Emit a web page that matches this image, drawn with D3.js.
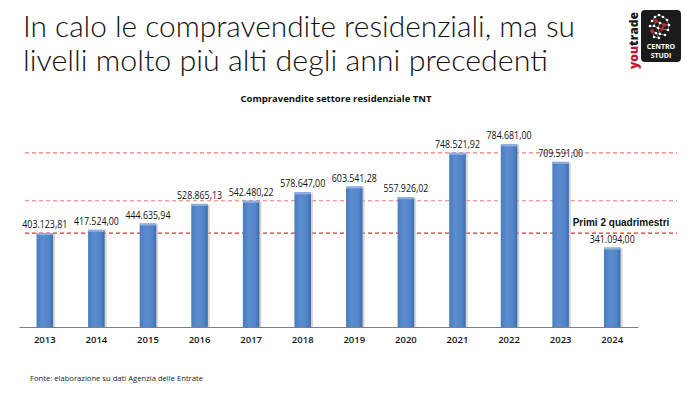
<!DOCTYPE html>
<html><head><meta charset="utf-8">
<script src="https://cdn.jsdelivr.net/npm/d3@7"></script>
<style>
html,body{margin:0;padding:0;background:#fff;}
svg{display:block;}
</style></head>
<body>
<svg id="c" width="690" height="397"></svg>
<script>
const years = ["2013","2014","2015","2016","2017","2018","2019","2020","2021","2022","2023","2024"];
const values = [403123.81, 417524.00, 444635.94, 528865.13, 542480.22, 578647.00, 603541.28, 557926.02, 748521.92, 784681.00, 709591.00, 341094.00];
const refLines = [748521.92, 542480.22, 403123.81];
const titleLines = ["In calo le compravendite residenziali, ma su", "livelli molto più alti degli anni precedenti"];
const chartTitle = "Compravendite settore residenziale TNT";
const note2024 = "Primi 2 quadrimestri";
const source = "Fonte: elaborazione su dati Agenzia delle Entrate";

const svg = d3.select("#c");
const it = d3.formatLocale({decimal: ",", thousands: ".", grouping: [3], currency: ["€",""]});
const fmt = it.format(",.2f");

const x = d3.scaleBand().domain(years).range([19, 638]).paddingInner(0.68).paddingOuter(0.34);
const y = d3.scaleLinear().domain([0, 800000]).range([327, 140.8]);

// defs
const defs = svg.append("defs");
const g1 = defs.append("linearGradient").attr("id","barg").attr("x1","0").attr("x2","1").attr("y1","0").attr("y2","0");
g1.append("stop").attr("offset","0").attr("stop-color","#4a7bbd");
g1.append("stop").attr("offset","0.35").attr("stop-color","#5b8cd0");
g1.append("stop").attr("offset","0.75").attr("stop-color","#5286c9");
g1.append("stop").attr("offset","1").attr("stop-color","#3e6cab");

// title
svg.append("g").selectAll("text").data(titleLines).join("text")
  .attr("x", 23).attr("y", (d,i)=> 37 + i*34)
  .attr("font-family","Lato, 'Open Sans', sans-serif").attr("font-weight",300)
  .attr("font-size", 29).attr("fill","#111")
  .attr("textLength",(d,i)=> i===0 ? 552 : 525).attr("lengthAdjust","spacingAndGlyphs")
  .text(d=>d);

// logo
const logo = svg.append("g");
logo.append("text").attr("transform","translate(638,69) rotate(-90)")
  .attr("font-family","'Open Sans', Arial, sans-serif").attr("font-weight",800).attr("font-size",12)
  .attr("textLength",57).attr("lengthAdjust","spacingAndGlyphs")
  .selectAll("tspan").data([["you","#c8102e"],["trade","#1a1a1a"]]).join("tspan")
  .attr("fill",d=>d[1]).text(d=>d[0]);
logo.append("rect").attr("x",641).attr("y",10).attr("width",40).attr("height",52).attr("rx",4).attr("fill","#1b1b1b");
const nodes = [[655,17,"w"],[659,15,"w"],[663,17,"w"],[667,20,"w"],[652,21,"w"],[656,21,"r"],[660,23,"w"],[664,25,"r"],[669,25,"w"],[650,26,"w"],[654,26,"w"],[658,28,"w"],[662,29,"r"],[668,30,"w"],[652,31,"r"],[656,33,"w"],[660,34,"w"],[665,35,"w"],[659,38,"w"],[654,37,"w"]];
const links = [[0,1],[1,2],[2,3],[4,5],[5,6],[6,7],[7,8],[9,10],[10,11],[11,12],[12,13],[14,15],[15,16],[16,17],[15,18],[0,4],[5,10],[6,11],[7,12],[3,8],[8,13],[11,16],[14,19],[19,18]];
logo.append("g").selectAll("line").data(links).join("line")
  .attr("x1",d=>nodes[d[0]][0]).attr("y1",d=>nodes[d[0]][1]).attr("x2",d=>nodes[d[1]][0]).attr("y2",d=>nodes[d[1]][1])
  .attr("stroke","#cfcfcf").attr("stroke-width",0.6);
logo.append("g").selectAll("circle").data(nodes).join("circle")
  .attr("cx",d=>d[0]).attr("cy",d=>d[1]).attr("r",d=>d[2]==="r"?1.9:1.3)
  .attr("fill",d=>d[2]==="r"?"#d0202f":"#fff");
logo.selectAll("text.ls").data(["CENTRO","STUDI"]).join("text").attr("class","ls")
  .attr("x",661).attr("y",(d,i)=>49+i*8.5).attr("text-anchor","middle")
  .attr("font-family","'Open Sans', Arial, sans-serif").attr("font-weight",700).attr("font-size",7)
  .attr("fill","#fff").text(d=>d);

// chart title
svg.append("text").attr("x", 336).attr("y", 102).attr("text-anchor","middle")
  .attr("font-family","'Open Sans', Arial, sans-serif").attr("font-weight",700).attr("font-size",9.5)
  .attr("fill","#111").text(chartTitle);

// reference lines
svg.append("g").selectAll("line").data(refLines).join("line")
  .attr("x1",25).attr("x2",677).attr("y1",d=>y(d)).attr("y2",d=>y(d))
  .attr("stroke",(d,i)=> i===2 ? "#e4302c" : "#f07a78")
  .attr("stroke-width",1.2).attr("stroke-dasharray","4,3");

// bar shadows
svg.append("g").selectAll("rect").data(values).join("rect")
  .attr("x",(d,i)=>x(years[i])+2).attr("y",d=>y(d)+1)
  .attr("width",x.bandwidth()).attr("height",d=>y(0)-y(d)-1)
  .attr("fill","#b9b9b9").attr("opacity",0.6);
// bars
svg.append("g").selectAll("rect").data(values).join("rect")
  .attr("x",(d,i)=>x(years[i])).attr("y",d=>y(d))
  .attr("width",x.bandwidth()).attr("height",d=>y(0)-y(d))
  .attr("fill","url(#barg)");
// bar top caps
svg.append("g").selectAll("rect").data(values).join("rect")
  .attr("x",(d,i)=>x(years[i])).attr("y",d=>y(d))
  .attr("width",x.bandwidth()).attr("height",2)
  .attr("fill","#8fb1e2");

// value labels
svg.append("g").selectAll("text").data(values).join("text")
  .attr("x",(d,i)=>x(years[i])+x.bandwidth()/2).attr("y",d=>y(d)-5)
  .attr("text-anchor","middle")
  .attr("font-family","'Open Sans', Arial, sans-serif").attr("font-size",10.5)
  .attr("textLength",45).attr("lengthAdjust","spacingAndGlyphs")
  .attr("fill","#111").text(d=>fmt(d));

// axis
const xAxis = d3.axisBottom(x).tickSize(0).tickPadding(9);
const ax = svg.append("g").attr("transform",`translate(0,${y(0)})`).call(xAxis);
ax.select(".domain").attr("stroke","#7f7f7f").attr("stroke-width",1.2);
ax.selectAll("text").attr("font-family","'Open Sans', Arial, sans-serif").attr("font-weight",600)
  .attr("font-size",9.5).attr("fill","#111");

// note
svg.append("text").attr("x",621).attr("y",226).attr("text-anchor","middle")
  .attr("font-family","Arial, 'Liberation Sans', sans-serif").attr("font-weight",700).attr("font-size",10)
  .attr("fill","#111").text(note2024);

// source
svg.append("text").attr("x",30).attr("y",381)
  .attr("font-family","'Open Sans', Arial, sans-serif").attr("font-size",7.5)
  .attr("textLength",173).attr("lengthAdjust","spacingAndGlyphs")
  .attr("fill","#222").text(source);
</script>
</body></html>
